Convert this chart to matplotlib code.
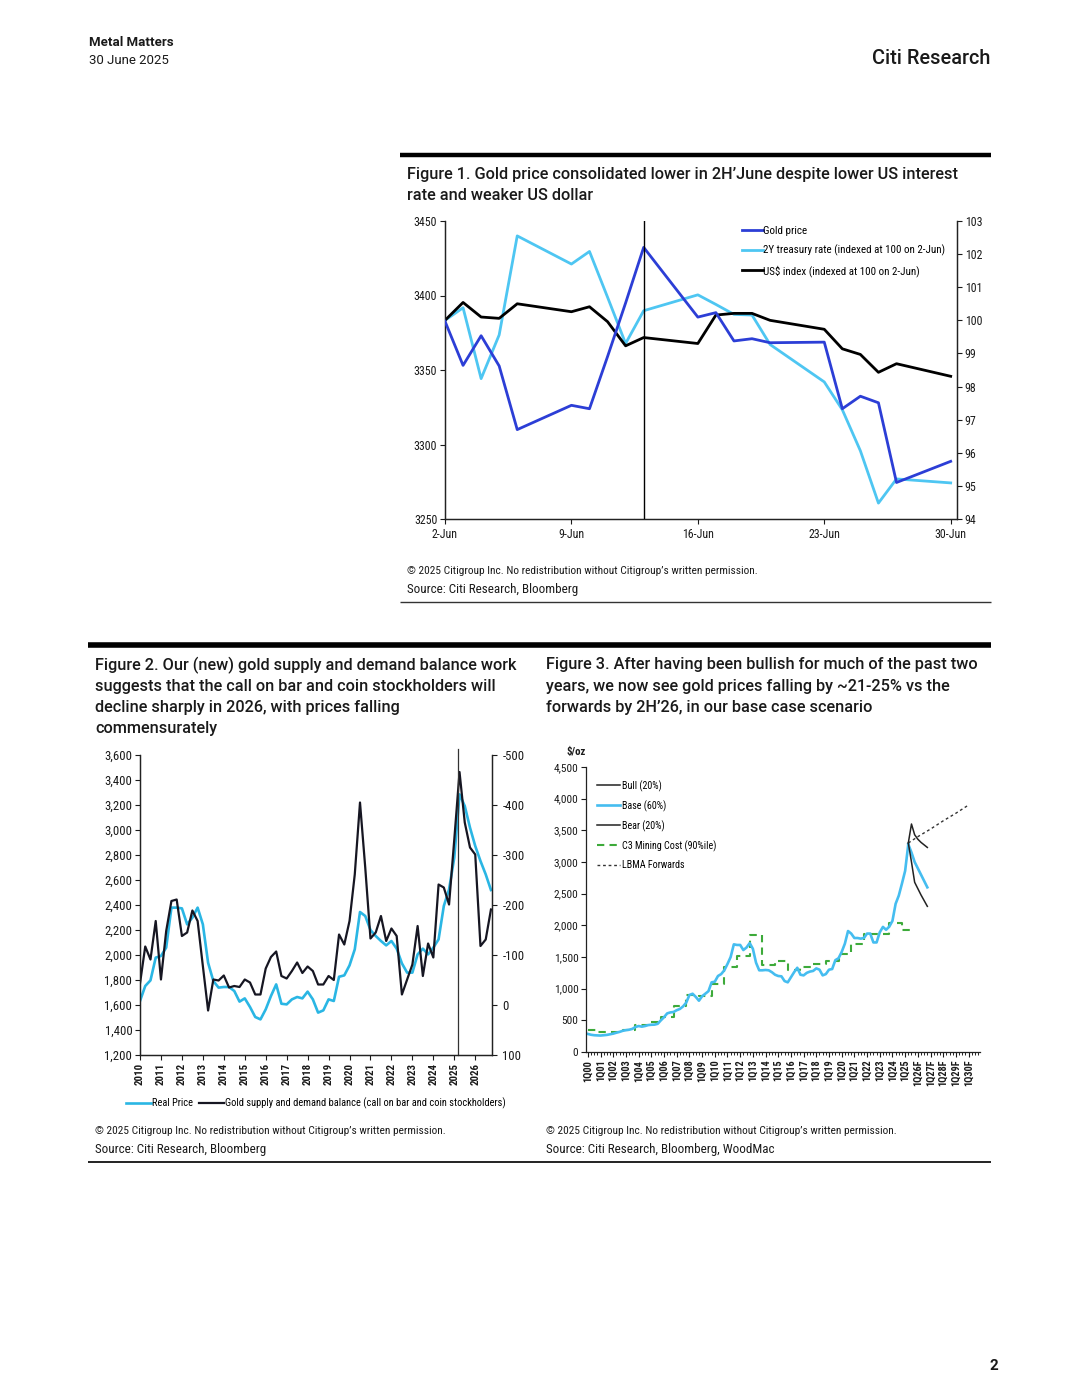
import numpy as np
import matplotlib
matplotlib.use("Agg")
import matplotlib.pyplot as plt
from matplotlib import font_manager as fm
from matplotlib.lines import Line2D
from matplotlib.ticker import FuncFormatter

# ---------------- DATA ----------------
# Figure 1 (daily, June 2025)
f1_days = [2, 3, 4, 5, 6, 9, 10, 11, 12, 13, 16, 17, 18, 19, 20, 23, 24, 25, 26, 27, 30]
f1_gold = [3382.7, 3353.1, 3373.0, 3352.7, 3310.0, 3326.3, 3324.0, 3359.0, 3395.0, 3432.3,
           3385.5, 3388.5, 3369.5, 3371.0, 3368.3, 3368.7, 3324.0, 3332.4, 3328.0, 3274.5, 3288.7]
f1_t2y = [100.0, 100.38, 98.24, 99.56, 102.55, 101.70, 102.08, 100.70, 99.30, 100.29,
          100.77, 100.48, 100.18, 100.16, 99.27, 98.14, 97.30, 96.06, 94.48, 95.21, 95.09]
f1_usd = [100.0, 100.54, 100.10, 100.06, 100.50, 100.26, 100.41, 99.96, 99.23, 99.48,
          99.30, 100.16, 100.21, 100.21, 100.00, 99.73, 99.14, 98.97, 98.43, 98.69, 98.31]
f1_event_day = 13
f1_tick_days = [2, 9, 16, 23, 30]
f1_tick_labels = ["2-Jun", "9-Jun", "16-Jun", "23-Jun", "30-Jun"]
f1_labels = ["Gold price", "2Y treasury rate (indexed at 100 on 2-Jun)",
             "US$ index (indexed at 100 on 2-Jun)"]

# Figure 2 (quarterly 1Q10 - 4Q26)
f2_years = [str(y) for y in range(2010, 2027)]
f2_real_price = [1632, 1752, 1797, 1979, 1992, 2059, 2379, 2379, 2373, 2245, 2299, 2379,
                 2245, 1938, 1792, 1739, 1744, 1744, 1712, 1627, 1653, 1584, 1504, 1485,
                 1565, 1672, 1765, 1610, 1605, 1645, 1664, 1653, 1707, 1645, 1539, 1557,
                 1645, 1632, 1826, 1837, 1917, 2045, 2344, 2312, 2200, 2152, 2112, 2077,
                 2112, 2051, 1933, 1859, 1859, 2005, 2051, 2005, 2059, 2125, 2392, 2525,
                 2779, 3285, 3192, 3019, 2872, 2752, 2645, 2520]
f2_balance = [-43, -117, -91, -168, -51, -148, -208, -211, -138, -145, -189, -168,
              -78, 11, -51, -49, -59, -35, -38, -36, -51, -45, -21, -21,
              -73, -96, -107, -58, -53, -68, -85, -64, -77, -68, -41, -41,
              -58, -50, -141, -121, -168, -261, -405, -275, -133, -145, -178, -128,
              -153, -138, -21, -51, -81, -158, -58, -123, -95, -241, -235, -201,
              -331, -466, -365, -315, -301, -118, -131, -191]
f2_event_q = 60.7
f2_labels = ["Real Price", "Gold supply and demand balance (call on bar and coin stockholders)"]

# Figure 3 (quarterly 1Q00 - 4Q30)
f3_tick_labels = ["1Q%02d" % y for y in range(0, 26)] + ["1Q%02dF" % y for y in range(26, 31)]
f3_base_hist = [285, 272, 265, 262, 260, 265, 270, 280, 290, 305, 318, 335, 345, 352, 365, 395,
                410, 400, 410, 425, 430, 432, 445, 500, 550, 610, 625, 632, 660, 680, 720, 780,
                900, 920, 870, 810, 880, 920, 960, 1100, 1110, 1200, 1230, 1290, 1390, 1500,
                1700, 1690, 1690, 1610, 1650, 1720, 1630, 1410, 1290, 1290, 1295, 1290, 1260,
                1220, 1200, 1195, 1120, 1100, 1180, 1260, 1330, 1220, 1210, 1250, 1270, 1280,
                1320, 1300, 1210, 1230, 1300, 1310, 1450, 1480, 1580, 1710, 1910, 1870, 1800,
                1800, 1790, 1800, 1870, 1870, 1730, 1730, 1890, 1975, 1930, 1980, 2070, 2340,
                2470, 2660, 2860, 3280]
f3_fc_q = [101, 102, 103, 104, 105, 106, 107]
f3_bull = [3300, 3600, 3430, 3360, 3310, 3270, 3230]
f3_base_fc = [3280, 3150, 3000, 2900, 2800, 2700, 2600]
f3_bear = [3300, 3000, 2680, 2580, 2480, 2390, 2300]
f3_lbma_q = [101, 104, 108, 112, 116, 120]
f3_lbma = [3300, 3400, 3520, 3650, 3770, 3900]
# C3 mining cost, annual steps (change each 4Q of prior year)
f3_c3_years = list(range(2000, 2026))
f3_c3_cost = [355, 310, 315, 350, 420, 470, 560, 720, 900, 890, 1080, 1340, 1510, 1840,
              1370, 1440, 1300, 1340, 1390, 1440, 1550, 1710, 1870, 1870, 2030, 1930]
f3_labels = ["Bull (20%)", "Base (60%)", "Bear (20%)", "C3 Mining Cost (90%ile)", "LBMA Forwards"]

# ---------------- STYLE ----------------
names = {f.name for f in fm.fontManager.ttflist}
NARROW = next((n for n in ["Liberation Sans Narrow", "Roboto Condensed", "Open Sans Condensed"]
               if n in names), "Roboto")
MAIN = "Roboto" if "Roboto" in names else "DejaVu Sans"
plt.rcParams["font.family"] = [NARROW, "DejaVu Sans"]
plt.rcParams["axes.unicode_minus"] = False

TXT = "#1a1a1a"
GOLD_C = "#2c3ed6"
LIGHT = "#4ec6f2"
REAL_C = "#2ab6e4"
BAL_C = "#161622"
BASE_C = "#45bdf0"
GREEN = "#3daa3a"
TITLE_FS = 11.7

W, H = 1080, 1398
fig = plt.figure(figsize=(W / 100, H / 100), dpi=100)


def axes_px(l, t, r, b):
    return fig.add_axes([l / W, 1 - b / H, (r - l) / W, (b - t) / H])


def text_px(x, y, s, **kw):
    kw.setdefault("color", TXT)
    return fig.text(x / W, 1 - y / H, s, **kw)


def hline_px(x0, x1, y, lw, color="black"):
    fig.add_artist(Line2D([x0 / W, x1 / W], [1 - y / H, 1 - y / H], lw=lw, color=color,
                          transform=fig.transFigure, solid_capstyle="butt"))


def style_axis(ax, size=7.5):
    ax.tick_params(axis="both", direction="out", length=3.5, width=0.8, labelsize=size,
                   pad=2, colors=TXT)
    for s in ax.spines.values():
        s.set_linewidth(0.9)
        s.set_color("#222222")


# ---------------- PAGE HEADER ----------------
text_px(89, 43, "Metal Matters", fontsize=9.5, fontweight="bold", family=MAIN, va="center")
text_px(89, 60, "30 June 2025", fontsize=9.5, family=MAIN, va="center")
text_px(990, 58, "Citi Research", fontsize=14.3, family=MAIN, fontweight="medium",
        va="center", ha="right")
text_px(998, 1366, "2", fontsize=11, family=MAIN, fontweight="bold", va="center", ha="right")

# ---------------- FIGURE 1 ----------------
hline_px(400, 991, 155, 3.2)
text_px(407, 175, "Figure 1. Gold price consolidated lower in 2H\u2019June despite lower US interest",
        fontsize=TITLE_FS, family=MAIN, fontweight="medium", va="center")
text_px(407, 196, "rate and weaker US dollar", fontsize=TITLE_FS, family=MAIN, fontweight="medium",
        va="center")

ax1 = axes_px(445, 221, 957, 519)
ax1r = ax1.twinx()
l_gold, = ax1.plot(f1_days, f1_gold, color=GOLD_C, lw=2.0, zorder=3)
ax1.set_ylim(3250, 3450)
ax1.set_yticks([3250, 3300, 3350, 3400, 3450])
ax1.set_xlim(2, 30.35)
ax1.set_xticks(f1_tick_days)
ax1.set_xticklabels(f1_tick_labels)
ax1.axvline(f1_event_day, color="black", lw=1.0, zorder=5)
l_t2y, = ax1r.plot(f1_days, f1_t2y, color=LIGHT, lw=2.0)
l_usd, = ax1r.plot(f1_days, f1_usd, color="black", lw=2.0)
ax1r.set_ylim(94, 103)
ax1r.set_yticks(range(94, 104))
for a in (ax1, ax1r):
    style_axis(a, 8.6)
    a.spines["top"].set_visible(False)
ax1.tick_params(axis="x", pad=3)
ax1.set_zorder(ax1r.get_zorder() + 1)
ax1.patch.set_visible(False)
ax1r.legend([l_gold, l_t2y, l_usd], f1_labels, loc="upper left",
            bbox_to_anchor=(742 / W, 1 - 226 / H), bbox_transform=fig.transFigure,
            frameon=False, fontsize=7.9, handlelength=1.9, handletextpad=0.05,
            labelspacing=0.8, borderpad=0, borderaxespad=0)

COPY = "\u00a9 2025 Citigroup Inc. No redistribution without Citigroup\u2019s written permission."
text_px(407, 571, COPY, fontsize=8.2, va="center")
text_px(407, 590, "Source: Citi Research, Bloomberg", fontsize=9.4, va="center")
hline_px(400, 991, 602, 1.0, color="#333333")

# ---------------- FIGURES 2 & 3 HEADER ----------------
hline_px(88, 991, 645, 4.0)
for i, s in enumerate(["Figure 2. Our (new) gold supply and demand balance work",
                       "suggests that the call on bar and coin stockholders will",
                       "decline sharply in 2026, with prices falling",
                       "commensurately"]):
    text_px(95, 665 + 21 * i, s, fontsize=TITLE_FS, family=MAIN, fontweight="medium", va="center")
for i, s in enumerate(["Figure 3. After having been bullish for much of the past two",
                       "years, we now see gold prices falling by ~21-25% vs the",
                       "forwards by 2H\u201926, in our base case scenario"]):
    text_px(546, 665 + 21 * i, s, fontsize=TITLE_FS, family=MAIN, fontweight="medium", va="center")

# ---------------- FIGURE 2 ----------------
ax2 = axes_px(140, 755, 492, 1055)
ax2r = ax2.twinx()
x2 = np.arange(len(f2_real_price))
l_real, = ax2.plot(x2, f2_real_price, color=REAL_C, lw=1.9)
ax2.set_ylim(1200, 3600)
ax2.set_yticks(range(1200, 3601, 200))
ax2.yaxis.set_major_formatter(FuncFormatter(lambda v, p: "{:,.0f}".format(v)))
ax2.set_xlim(0, len(f2_real_price) - 1 + 0.2)
ax2.set_xticks(np.arange(0, len(f2_real_price), 4))
ax2.set_xticklabels(f2_years, rotation=90)
l_bal, = ax2r.plot(x2, f2_balance, color=BAL_C, lw=1.6)
ax2r.set_ylim(100, -500)
ax2r.set_yticks(range(-500, 101, 100))
ax2r.yaxis.set_major_formatter(FuncFormatter(lambda v, p: "%d" % v))
ax2r.plot([f2_event_q, f2_event_q], [0, 1.02], transform=ax2r.get_xaxis_transform(),
          color="#333333", lw=0.9, clip_on=False)
for a in (ax2, ax2r):
    style_axis(a, 9.2)
    a.spines["top"].set_visible(False)
ax2.tick_params(axis="x", labelsize=7.8, pad=2)
ax2r.tick_params(axis="y", pad=4)
for t in ax2.get_xticklabels():
    t.set_fontweight("bold")
fig.legend([l_real, l_bal], f2_labels, loc="center", bbox_to_anchor=(316 / W, 1 - 1103 / H),
           ncol=2, frameon=False, fontsize=7.5, handlelength=2.4, handletextpad=0.05,
           columnspacing=0.6, borderpad=0)
text_px(95, 1131, COPY, fontsize=8.2, va="center")
text_px(95, 1150, "Source: Citi Research, Bloomberg", fontsize=9.4, va="center")

# ---------------- FIGURE 3 ----------------
ax3 = axes_px(586, 767, 980, 1052)
nq = 124
x3 = np.arange(len(f3_base_hist))
c3_x = [max(0, 4 * (y - 2000) - 1) for y in f3_c3_years] + [103]
c3_y = f3_c3_cost + [f3_c3_cost[-1]]
l_c3, = ax3.plot(c3_x, c3_y, drawstyle="steps-post", color=GREEN, lw=1.5,
                 dashes=(3.5, 2.5))
l_lbma, = ax3.plot(f3_lbma_q, f3_lbma, color="#333333", lw=1.0, dashes=(2, 2))
l_base, = ax3.plot(x3, f3_base_hist, color=BASE_C, lw=1.9)
ax3.plot(f3_fc_q, f3_base_fc, color=BASE_C, lw=1.9)
l_bull, = ax3.plot(f3_fc_q, f3_bull, color="#222222", lw=1.1)
l_bear, = ax3.plot(f3_fc_q, f3_bear, color="#222222", lw=1.1)
ax3.set_ylim(0, 4500)
ax3.set_yticks(range(0, 4501, 500))
ax3.yaxis.set_major_formatter(FuncFormatter(lambda v, p: "{:,.0f}".format(v)))
ax3.set_xlim(-0.6, nq - 0.4)
ax3.set_xticks(np.arange(0, 4 * len(f3_tick_labels), 4))
ax3.set_xticklabels(f3_tick_labels, rotation=90)
ax3.set_xticks(np.arange(nq), minor=True)
style_axis(ax3, 8.2)
ax3.tick_params(axis="x", which="major", labelsize=7.4, length=3.5, pad=2)
ax3.tick_params(axis="x", which="minor", length=2.5, width=0.6)
for t in ax3.get_xticklabels():
    t.set_fontweight("bold")
ax3.spines["top"].set_visible(False)
ax3.spines["right"].set_visible(False)
text_px(576, 752, "$/oz", fontsize=7.8, fontweight="bold", va="center", ha="center")
ax3.legend([l_bull, l_base, l_bear, l_c3, l_lbma], f3_labels, loc="upper left",
           bbox_to_anchor=(597 / W, 1 - 780 / H), bbox_transform=fig.transFigure,
           frameon=False, fontsize=7.2, handlelength=2.3, handletextpad=0.2,
           labelspacing=0.85, borderpad=0, borderaxespad=0)
text_px(546, 1131, COPY, fontsize=8.2, va="center")
text_px(546, 1150, "Source: Citi Research, Bloomberg, WoodMac", fontsize=9.4, va="center")

hline_px(88, 991, 1162, 1.4, color="#222222")

fig.savefig("out.png", dpi=100)
